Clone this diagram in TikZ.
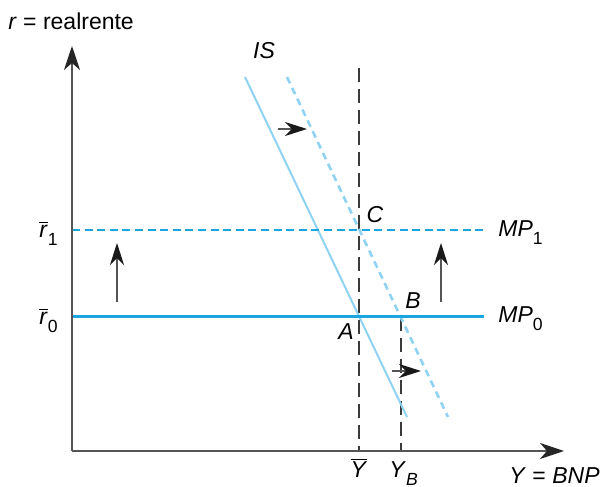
\documentclass[tikz,border=0pt]{standalone}
\usepackage{fontspec}
\setmainfont{Liberation Sans}
\usetikzlibrary{arrows.meta}
\definecolor{ISBlue}{HTML}{8FD2F2}
\definecolor{MPBlue}{HTML}{1BA6E2}
\definecolor{AxisGray}{HTML}{555555}
\definecolor{GuideGray}{HTML}{3A3A3A}
\newcommand{\lowsub}[1]{\raisebox{-4pt}{\fontsize{8.8}{10}\selectfont #1}}
\newcommand{\barred}[1]{$\overline{\mbox{\textit{#1}}}$}
\tikzset{
  axisline/.style={AxisGray, line width=0.8pt, -{Stealth[length=12pt,width=8pt,inset=3.5pt,color=black!85]}},
  shiftarrow/.style={AxisGray, line width=0.7pt, -{Stealth[length=11pt,width=7pt,inset=3.5pt,color=black!90]}},
  guideline/.style={GuideGray, line width=0.75pt, dash pattern=on 7pt off 3.5pt},
  mpline/.style={MPBlue, line width=1.5pt},
  mpshifted/.style={MPBlue, line width=1.4pt, dash pattern=on 4pt off 2.3pt},
  isline/.style={ISBlue, line width=1pt},
  isshifted/.style={ISBlue, line width=1.3pt, dash pattern=on 3.5pt off 2.5pt}
}
\begin{document}
\begin{tikzpicture}[x=0.5pt,y=-0.5pt,font=\fontsize{11.5}{13.8}\selectfont]
  \useasboundingbox (0,0) rectangle (602,487);
  % points
  \coordinate (O) at (72,451);
  \coordinate (rtop) at (72,46);
  \coordinate (yend) at (564,451);
  \coordinate (r0) at (72,317);
  \coordinate (mp0end) at (484,317);
  \coordinate (r1) at (72,230);
  \coordinate (mp1end) at (484,230);
  \coordinate (istop) at (245,77);
  \coordinate (isbot) at (407,417);
  \coordinate (isstop) at (287,77);
  \coordinate (issbot) at (448,417);
  \coordinate (ybartop) at (359,68);
  \coordinate (ybar) at (359,451);
  \coordinate (B) at (401,317);
  \coordinate (yb) at (401,451);
  % guides
  \draw[guideline] (ybartop) -- (ybar);
  \draw[guideline] (B) -- (yb);
  % curves
  \draw[isline] (istop) -- (isbot);
  \draw[isshifted] (isstop) -- (issbot);
  \draw[mpline] (r0) -- (mp0end);
  \draw[mpshifted] (r1) -- (mp1end);
  % axes
  \draw[axisline] (O) -- (rtop);
  \draw[axisline] (O) -- (yend);
  % shifts
  \coordinate (upLa) at (117,302); \coordinate (upLb) at (117,243);
  \coordinate (upRa) at (441,302); \coordinate (upRb) at (441,243);
  \coordinate (isAa) at (278,129); \coordinate (isAb) at (307,129);
  \coordinate (isBa) at (392,371); \coordinate (isBb) at (421,371);
  \draw[shiftarrow] (upLa) -- (upLb);
  \draw[shiftarrow] (upRa) -- (upRb);
  \draw[shiftarrow] (isAa) -- (isAb);
  \draw[shiftarrow] (isBa) -- (isBb);
  % labels
  \node[anchor=base west, inner sep=0pt] (rlab) at (8,30) {\textit{r} = realrente};
  \node[anchor=base east, inner sep=0pt] (rbar1) at (58,238) {\barred{r}\lowsub{1}};
  \node[anchor=base east, inner sep=0pt] (rbar0) at (58,325) {\barred{r}\lowsub{0}};
  \node[anchor=base west, inner sep=0pt] (mp1lab) at (498,237) {\textit{MP}\lowsub{1}};
  \node[anchor=base west, inner sep=0pt] (mp0lab) at (498,323) {\textit{MP}\lowsub{0}};
  \node[anchor=base, inner sep=0pt] (islab) at (264,59) {\textit{IS}};
  \node[anchor=base, inner sep=0pt] (Clab) at (375,223) {\textit{C}};
  \node[anchor=base, inner sep=0pt] (Blab) at (413,309) {\textit{B}};
  \node[anchor=base, inner sep=0pt] (Alab) at (346,340) {\textit{A}};
  \node[anchor=base, inner sep=0pt] (ybarlab) at (359,478) {\barred{Y}};
  \node[anchor=base west, inner sep=0pt] (yblab) at (389,478) {\textit{Y}\lowsub{\textit{B}}};
  \node[anchor=base east, inner sep=0pt] (ylab) at (600,484) {\textit{Y} = \textit{BNP}};
\end{tikzpicture}
\end{document}
